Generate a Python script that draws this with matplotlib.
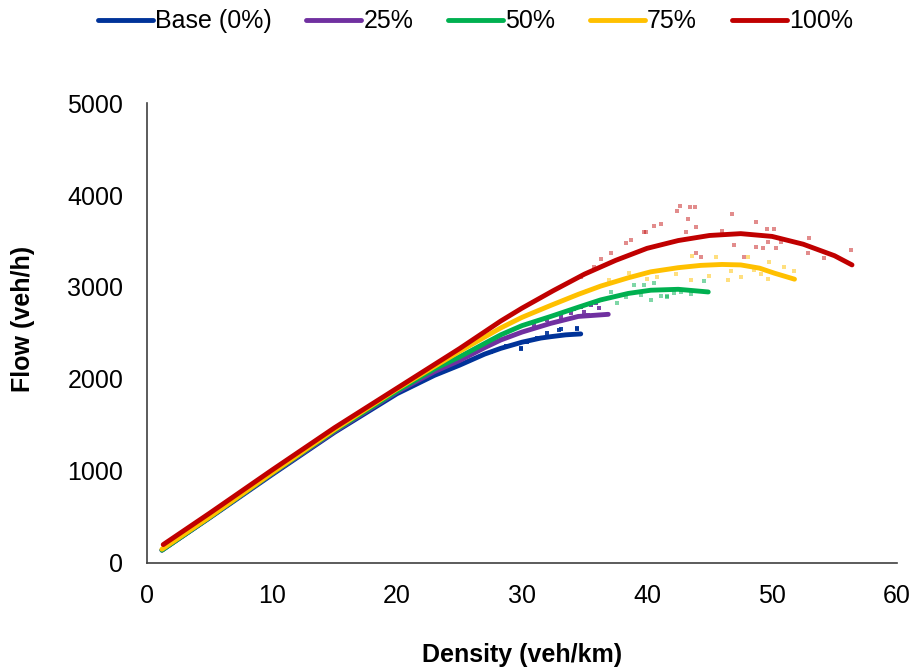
import matplotlib
matplotlib.use("Agg")
import matplotlib.pyplot as plt

plt.rcParams['font.family'] = ['Liberation Sans', 'DejaVu Sans']

# fitted curves (density veh/km, flow veh/h)
base_x = [1.2, 5, 10, 15, 20, 23, 25, 27, 28.3, 30, 31.5, 32.3, 33.5, 34.7]
base_y = [140, 490, 960, 1420, 1840, 2040, 2150, 2270, 2333, 2400, 2445, 2460, 2480, 2490]

p25_x = [1.2, 5, 10, 15, 20, 23, 25, 27, 28.3, 30, 32.3, 34.5, 36.9]
p25_y = [140, 495, 970, 1430, 1860, 2080, 2200, 2340, 2424, 2510, 2605, 2680, 2703]

p50_x = [1.2, 5, 10, 15, 20, 23, 25, 28.3, 30, 32.3, 34.5, 36.3, 38.5, 40.3, 42.5, 44.9]
p50_y = [140, 495, 975, 1440, 1870, 2110, 2240, 2480, 2580, 2680, 2780, 2860, 2930, 2965, 2975, 2946]

p75_x = [1.2, 5, 10, 15, 20, 25, 28.3, 30, 32.3, 34.5, 36.3, 38.5, 40.3, 42.5, 44.3, 46, 47.5, 49, 50.2, 51.8]
p75_y = [150, 500, 980, 1450, 1890, 2300, 2555, 2670, 2800, 2920, 3010, 3100, 3165, 3210, 3235, 3245, 3240, 3205, 3150, 3085]

p100_x = [1.3, 5, 10, 15, 20, 25, 28.3, 30, 32.5, 35, 37.5, 40, 42.5, 45, 47.5, 50, 52.5, 55, 56.4]
p100_y = [200, 540, 1010, 1470, 1900, 2330, 2630, 2770, 2960, 3140, 3290, 3420, 3505, 3560, 3580, 3550, 3465, 3340, 3240]

# raw measurement points (scatter)
base_sx = [29.9, 33.1, 34.4, 32.0, 30.4, 29.9, 33.0, 34.4, 31.2, 28.7, 27.5]
base_sy = [2323, 2540, 2540, 2497, 2405, 2337, 2533, 2551, 2450, 2360, 2290]

p25_sx = [34.7, 35.5, 35.9, 35.0, 33.1, 32.0, 33.9, 31.0, 34.2, 35.3, 36.2, 5.7, 7.2, 8.65, 10.3, 4.25, 11.7, 13.2, 14.7]
p25_sy = [2786, 2804, 2823, 2732, 2677, 2641, 2714, 2587, 2760, 2700, 2770, 594, 721, 848, 1011, 449, 1138, 1283, 1410]

p50_sx = [39.8, 40.6, 41.1, 41.6, 42.2, 40.3, 44.6, 42.7, 39.0, 39.5, 40.6, 41.6, 42.7, 37.6, 37.1, 36.3, 43.5, 38.3]
p50_sy = [3022, 2967, 2902, 2902, 2932, 2859, 3068, 2967, 3022, 2913, 3040, 2895, 2949, 2823, 2949, 2859, 2920, 2890]

p75_sx = [43.6, 45.5, 48.1, 49.8, 51.0, 51.8, 42.3, 43.5, 45.0, 46.5, 47.5, 49.1, 49.7, 40.8, 40.0, 46.7, 48.6, 35.2, 37.0, 38.6]
p75_sy = [3337, 3330, 3330, 3275, 3214, 3177, 3141, 3076, 3120, 3076, 3105, 3141, 3083, 3105, 3083, 3177, 3185, 2960, 3080, 3150]

p100_sx = [42.65, 43.45, 43.83, 42.39, 43.3, 46.77, 48.72, 49.6, 50.2, 43.9, 43.1, 46.0, 47.0, 48.7, 49.3, 50.3, 49.7,
           50.7, 53.0, 52.9, 54.2, 56.3, 47.8, 44.3, 43.9, 40.6, 41.1, 39.8, 39.9, 38.7, 38.3, 37.1, 36.3, 35.8, 34.7]
p100_sy = [3880, 3866, 3866, 3830, 3736, 3793, 3703, 3630, 3630, 3649, 3594, 3612, 3457, 3438, 3420, 3420, 3486,
           3486, 3529, 3373, 3312, 3402, 3330, 3330, 3366, 3663, 3685, 3601, 3601, 3511, 3475, 3366, 3301, 3221, 3112]

labels = ['Base (0%)', '25%', '50%', '75%', '100%']
colors = ['#003399', '#7030A0', '#00B050', '#FFC000', '#C00000']

fig = plt.figure(figsize=(9.14, 6.68), dpi=100)
ax = fig.add_axes([0.1608, 0.1572, 0.8206, 0.6886])

curves = [(base_x, base_y), (p25_x, p25_y), (p50_x, p50_y), (p75_x, p75_y), (p100_x, p100_y)]
points = [(base_sx, base_sy), (p25_sx, p25_sy), (p50_sx, p50_sy), (p75_sx, p75_sy), (p100_sx, p100_sy)]
alphas = [0.9, 0.9, 0.5, 0.5, 0.45]

for (sx, sy), c, a in zip(points, colors, alphas):
    ax.scatter(sx, sy, s=7, marker='s', color=c, alpha=a, linewidths=0, zorder=2)

for (cx, cy), c, lab in zip(curves, colors, labels):
    ax.plot(cx, cy, color=c, lw=3.5, label=lab, solid_capstyle='round', solid_joinstyle='round', zorder=3)

ax.set_xlim(0, 60)
ax.set_ylim(0, 5000)
ax.set_xticks([0, 10, 20, 30, 40, 50, 60])
ax.set_yticks([0, 1000, 2000, 3000, 4000, 5000])
ax.tick_params(length=0, labelsize=18, pad=17, colors='#000000')
ax.tick_params(axis='x', pad=15)

for s in ['top', 'right']:
    ax.spines[s].set_visible(False)
for s in ['left', 'bottom']:
    ax.spines[s].set_color('#404040')
    ax.spines[s].set_linewidth(1.2)

ax.set_xlabel('Density (veh/km)', fontsize=18, fontweight='bold')
ax.set_ylabel('Flow (veh/h)', fontsize=18, fontweight='bold')
ax.xaxis.label.set_va('center')
ax.yaxis.label.set_va('center')
ax.xaxis.set_label_coords(0.5, -0.2)
ax.yaxis.set_label_coords(-0.165, 0.53)

fig.legend(loc='center', bbox_to_anchor=(0.52, 0.968), ncol=5, frameon=False, fontsize=18,
           handlelength=2.2, handletextpad=0.08, columnspacing=1.4)

fig.savefig('out.png', dpi=100)
